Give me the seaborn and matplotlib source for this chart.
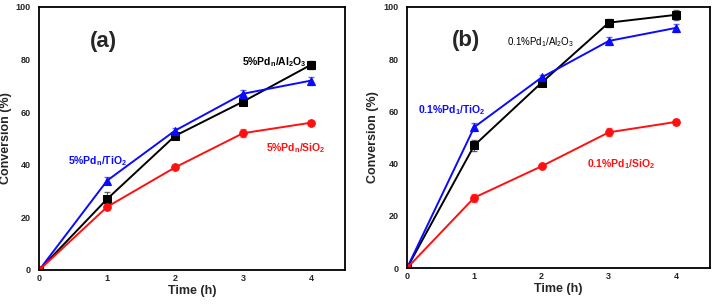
import numpy as np
import pandas as pd
import matplotlib
matplotlib.use("Agg")
import matplotlib.pyplot as plt
import seaborn as sns

sns.set_style("white")
plt.rcParams['font.family'] = ['Liberation Sans', 'DejaVu Sans']
plt.rcParams['mathtext.fontset'] = 'custom'
plt.rcParams['mathtext.rm'] = 'Liberation Sans'
plt.rcParams['mathtext.bf'] = 'Liberation Sans:bold'

# data
time_h = [0, 1, 2, 3, 4]

a_al2o3 = [0, 27, 51, 64, 78]
a_al2o3_err = [0, 2.5, 1.0, 1.0, 1.5]
a_tio2 = [0, 34, 53, 67, 72]
a_tio2_err = [0, 1.5, 1.0, 1.5, 1.5]
a_sio2 = [0, 24, 39, 52, 56]
a_sio2_err = [0, 1.0, 0.5, 1.5, 0.5]

b_al2o3 = [0, 47, 71, 94, 97]
b_al2o3_err = [0, 2.0, 1.0, 1.5, 2.0]
b_tio2 = [0, 54, 73, 87, 92]
b_tio2_err = [0, 1.5, 1.0, 1.5, 1.5]
b_sio2 = [0, 27, 39, 52, 56]
b_sio2_err = [0, 1.5, 0.5, 1.5, 1.0]

fig = plt.figure(figsize=(7.14, 3.04), dpi=100)
ax1 = fig.add_axes([0.055, 0.112, 0.428, 0.865])
ax2 = fig.add_axes([0.570, 0.118, 0.424, 0.859])

colors = {'Al2O3': 'black', 'TiO2': '#0a0aff', 'SiO2': '#ff1010'}
markers = {'Al2O3': 's', 'TiO2': '^', 'SiO2': 'o'}


def draw(ax, series):
    for name, vals, errs in series:
        df = pd.DataFrame({'t': time_h, 'v': vals})
        c = colors[name]
        sns.lineplot(data=df, x='t', y='v', ax=ax, color=c, marker=markers[name],
                     markersize=5.5, markeredgecolor=c, linewidth=1.4)
        ax.errorbar(time_h, vals, yerr=errs, fmt='none', ecolor=c, alpha=0.6,
                    elinewidth=0.8, capsize=2)
    ax.set_xlim(0, 4.5)
    ax.set_ylim(0, 100)
    ax.set_xticks([0, 1, 2, 3, 4])
    ax.set_yticks([0, 20, 40, 60, 80, 100])
    ax.tick_params(axis='x', direction='in', length=4, width=1.2, labelsize=6.5, pad=3)
    ax.tick_params(axis='y', direction='out', length=4, width=1.2, labelsize=6.5, pad=2)
    for lab in ax.get_xticklabels() + ax.get_yticklabels():
        lab.set_fontweight('bold')
    for s in ax.spines.values():
        s.set_linewidth(1.3)
        s.set_color('black')
    ax.set_xlabel('Time (h)', fontsize=9, fontweight='bold', labelpad=1)
    ax.set_ylabel('Conversion (%)', fontsize=9, fontweight='bold', labelpad=3)


draw(ax1, [('Al2O3', a_al2o3, a_al2o3_err), ('TiO2', a_tio2, a_tio2_err),
           ('SiO2', a_sio2, a_sio2_err)])
draw(ax2, [('Al2O3', b_al2o3, b_al2o3_err), ('TiO2', b_tio2, b_tio2_err),
           ('SiO2', b_sio2, b_sio2_err)])

ax1.text(0.74, 87, '(a)', fontsize=16, fontweight='bold', va='center')
ax1.text(2.98, 79, r'5%Pd$_{\mathbf{n}}$/Al$_{\mathbf{2}}$O$_{\mathbf{3}}$', fontsize=7.5,
         fontweight='bold', color='black', va='center')
ax1.text(0.43, 41.5, r'5%Pd$_{\mathbf{n}}$/TiO$_{\mathbf{2}}$', fontsize=7.5,
         fontweight='bold', color=colors['TiO2'], va='center')
ax1.text(3.34, 46.5, r'5%Pd$_{\mathbf{n}}$/SiO$_{\mathbf{2}}$', fontsize=7.5,
         fontweight='bold', color=colors['SiO2'], va='center')

ax2.text(0.66, 87, '(b)', fontsize=16, fontweight='bold', va='center')
ax2.text(1.48, 86.5, r'0.1%Pd$_{1}$/Al$_{2}$O$_{3}$', fontsize=7,
         color='black', va='center')
ax2.text(0.16, 60.5, r'0.1%Pd$_{\mathbf{1}}$/TiO$_{\mathbf{2}}$', fontsize=7.5,
         fontweight='bold', color=colors['TiO2'], va='center')
ax2.text(2.68, 40, r'0.1%Pd$_{\mathbf{1}}$/SiO$_{\mathbf{2}}$', fontsize=7.5,
         fontweight='bold', color=colors['SiO2'], va='center')

fig.savefig('out.png', dpi=100)
